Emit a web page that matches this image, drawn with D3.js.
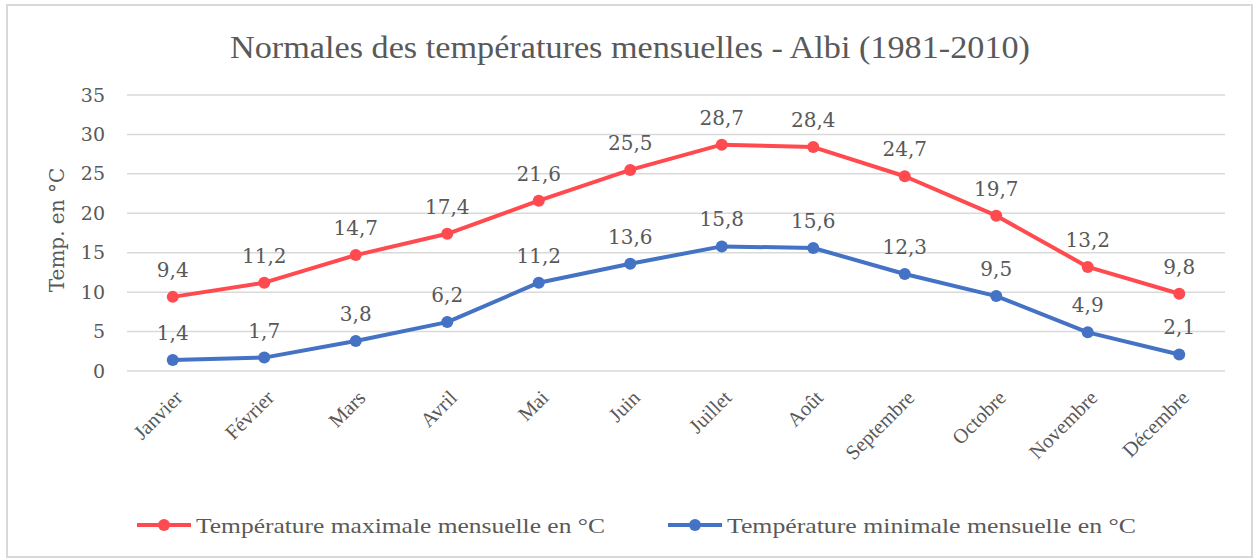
<!DOCTYPE html>
<html>
<head>
<meta charset="utf-8">
<script src="https://cdn.jsdelivr.net/npm/d3@7"></script>
<style>
  body { margin: 0; background: #fff; }
  text { fill: #595959; }
</style>
</head>
<body>
<div id="chart"></div>
<script>
// chart data
var months = ["Janvier", "Février", "Mars", "Avril", "Mai", "Juin", "Juillet", "Août", "Septembre", "Octobre", "Novembre", "Décembre"];
var tMax = [9.4, 11.2, 14.7, 17.4, 21.6, 25.5, 28.7, 28.4, 24.7, 19.7, 13.2, 9.8];
var tMin = [1.4, 1.7, 3.8, 6.2, 11.2, 13.6, 15.8, 15.6, 12.3, 9.5, 4.9, 2.1];
var yTicks = [0, 5, 10, 15, 20, 25, 30, 35];
var seriesNames = ["Température maximale mensuelle en °C", "Température minimale mensuelle en °C"];

var svgWidth = 1254;
var svgHeight = 559;
var margin = { top: 95, right: 29, bottom: 188, left: 127 };
var chartWidth = svgWidth - margin.left - margin.right;
var chartHeight = svgHeight - margin.top - margin.bottom;

var red = "#FF4B4F";
var blue = "#4472C4";
var serif = "Liberation Serif, serif";
var numFont = "DejaVu Serif, serif";

var svg = d3.select("#chart")
  .append("svg")
  .attr("width", svgWidth)
  .attr("height", svgHeight);

// chart frame
svg.append("rect")
  .attr("x", 7).attr("y", 5)
  .attr("width", 1245).attr("height", 552)
  .attr("fill", "none")
  .attr("stroke", "#D9D9D9")
  .attr("stroke-width", 2);

svg.append("text")
  .attr("x", 630).attr("y", 58)
  .attr("text-anchor", "middle")
  .attr("font-family", serif)
  .attr("font-size", "31px")
  .attr("textLength", 800)
  .attr("lengthAdjust", "spacingAndGlyphs")
  .text("Normales des températures mensuelles - Albi (1981-2010)");

var chartGroup = svg.append("g")
  .attr("transform", `translate(${margin.left}, ${margin.top})`);

var xScale = d3.scaleBand()
  .domain(months)
  .range([0, chartWidth]);

var yScale = d3.scaleLinear()
  .domain([0, 35])
  .range([chartHeight, 0]);

// gridlines
chartGroup.append("g")
  .selectAll("line")
  .data(yTicks)
  .enter()
  .append("line")
  .attr("x1", 0)
  .attr("x2", chartWidth)
  .attr("y1", d => yScale(d))
  .attr("y2", d => yScale(d))
  .attr("stroke", "#D9D9D9")
  .attr("stroke-width", 1.5);

// y axis
var yAxis = d3.axisLeft(yScale).tickValues(yTicks).tickSize(0).tickPadding(22);
var yG = chartGroup.append("g").call(yAxis);
yG.select(".domain").remove();
yG.selectAll("text")
  .attr("font-family", numFont)
  .attr("font-size", "19px")
  .attr("fill", "#595959");

svg.append("text")
  .attr("transform", `translate(64, ${margin.top + chartHeight / 2 - 3}) rotate(-90)`)
  .attr("text-anchor", "middle")
  .attr("font-family", numFont)
  .attr("font-size", "20px")
  .text("Temp. en °C");

// x axis
var xAxis = d3.axisBottom(xScale).tickSize(0).tickPadding(0);
var xG = chartGroup.append("g")
  .attr("transform", `translate(0, ${chartHeight})`)
  .call(xAxis);
xG.select(".domain").remove();
xG.selectAll("text")
  .attr("font-family", serif)
  .attr("font-size", "20.5px")
  .attr("fill", "#595959")
  .attr("text-anchor", "end")
  .attr("dy", "0")
  .attr("y", 0)
  .attr("transform", "translate(11, 28) rotate(-45)");

// lines
var line = d3.line()
  .x((d, i) => xScale(months[i]) + xScale.bandwidth() / 2)
  .y(d => yScale(d));

function drawSeries(values, color) {
  chartGroup.append("path")
    .datum(values)
    .attr("d", line)
    .attr("fill", "none")
    .attr("stroke", color)
    .attr("stroke-width", 4)
    .attr("stroke-linejoin", "round");

  chartGroup.append("g")
    .selectAll("circle")
    .data(values)
    .enter()
    .append("circle")
    .attr("cx", (d, i) => xScale(months[i]) + xScale.bandwidth() / 2)
    .attr("cy", d => yScale(d))
    .attr("r", 6)
    .attr("fill", color);

  chartGroup.append("g")
    .selectAll("text")
    .data(values)
    .enter()
    .append("text")
    .attr("x", (d, i) => xScale(months[i]) + xScale.bandwidth() / 2)
    .attr("y", d => yScale(d) - 20)
    .attr("text-anchor", "middle")
    .attr("font-family", numFont)
    .attr("font-size", "20px")
    .text(d => d.toFixed(1).replace(".", ","));
}

drawSeries(tMax, red);
drawSeries(tMin, blue);

// legend
var legendItems = [
  { name: seriesNames[0], color: red, x: 137, width: 409 },
  { name: seriesNames[1], color: blue, x: 668, width: 409 }
];
var legend = svg.append("g");
legendItems.forEach(function(item) {
  var g = legend.append("g").attr("transform", `translate(${item.x}, 525)`);
  g.append("line")
    .attr("x1", 0).attr("x2", 54)
    .attr("y1", 0).attr("y2", 0)
    .attr("stroke", item.color)
    .attr("stroke-width", 4);
  g.append("circle")
    .attr("cx", 27).attr("cy", 0)
    .attr("r", 6)
    .attr("fill", item.color);
  g.append("text")
    .attr("x", 59).attr("y", 8)
    .attr("font-family", serif)
    .attr("font-size", "22px")
    .attr("textLength", item.width)
    .attr("lengthAdjust", "spacingAndGlyphs")
    .text(item.name);
});
</script>
</body>
</html>
